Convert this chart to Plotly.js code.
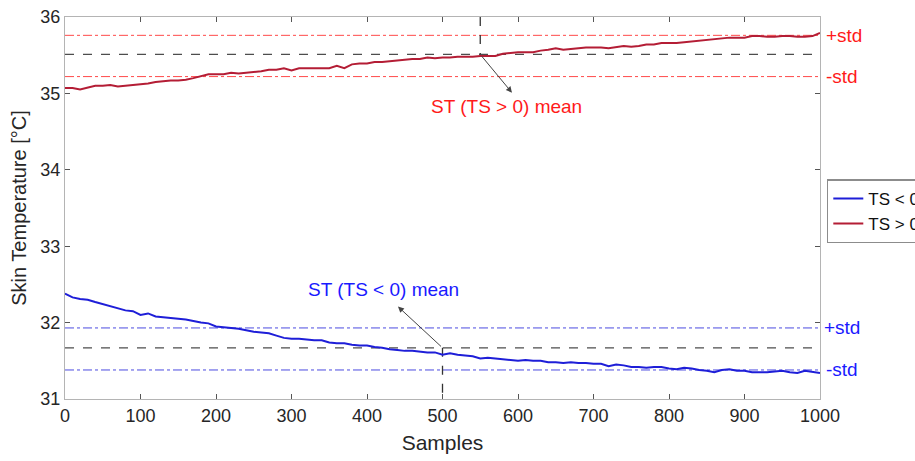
<!DOCTYPE html>
<html>
<head>
<meta charset="utf-8">
<script src="https://cdn.plot.ly/plotly-3.0.1.min.js"></script>
<style>html,body{margin:0;padding:0;background:#fff;overflow:hidden}#chart{width:915px;height:461px}</style>
</head>
<body>
<div id="chart"></div>
<script>
const samples = [0,10,20,30,40,50,60,70,80,90,100,110,120,130,140,150,160,170,180,190,200,210,220,230,240,250,260,270,280,290,300,310,320,330,340,350,360,370,380,390,400,410,420,430,440,450,460,470,480,490,500,510,520,530,540,550,560,570,580,590,600,610,620,630,640,650,660,670,680,690,700,710,720,730,740,750,760,770,780,790,800,810,820,830,840,850,860,870,880,890,900,910,920,930,940,950,960,970,980,990,1000];

const tsPositive = [35.07,35.07,35.05,35.07,35.10,35.10,35.11,35.09,35.10,35.11,
 35.12,35.13,35.15,35.16,35.17,35.17,35.18,35.20,35.22,35.25,
 35.25,35.25,35.27,35.26,35.27,35.28,35.29,35.31,35.31,35.33,
 35.30,35.33,35.33,35.33,35.33,35.33,35.36,35.33,35.38,35.39,
 35.39,35.41,35.41,35.42,35.43,35.44,35.45,35.45,35.47,35.46,
 35.47,35.47,35.48,35.48,35.48,35.49,35.49,35.49,35.52,35.53,
 35.54,35.54,35.54,35.56,35.57,35.59,35.57,35.58,35.59,35.60,
 35.60,35.60,35.59,35.61,35.62,35.61,35.62,35.64,35.64,35.66,
 35.66,35.66,35.67,35.68,35.69,35.70,35.71,35.72,35.73,35.73,
 35.73,35.75,35.75,35.74,35.74,35.75,35.75,35.74,35.74,35.75,
 35.79];

const tsNegative = [32.38,32.33,32.31,32.30,32.27,32.24,32.22,32.18,32.16,32.15,
 32.10,32.12,32.08,32.07,32.06,32.05,32.04,32.02,32.00,31.99,
 31.95,31.94,31.93,31.92,31.90,31.88,31.87,31.86,31.83,31.80,
 31.79,31.79,31.78,31.77,31.77,31.74,31.73,31.73,31.71,31.70,
 31.70,31.68,31.67,31.65,31.64,31.63,31.63,31.62,31.61,31.61,
 31.58,31.60,31.58,31.57,31.56,31.53,31.54,31.53,31.52,31.51,
 31.50,31.51,31.50,31.50,31.48,31.48,31.47,31.48,31.47,31.47,
 31.46,31.46,31.43,31.45,31.44,31.42,31.42,31.41,31.42,31.42,
 31.40,31.39,31.41,31.40,31.38,31.37,31.35,31.38,31.39,31.37,
 31.37,31.35,31.35,31.35,31.36,31.37,31.35,31.34,31.37,31.36,
 31.34];

// reference levels: [+std, mean, -std]
const posLevels = [35.76, 35.51, 35.22];
const negLevels = [31.93, 31.67, 31.38];
const xSpan = [0, 1000];
const posMeanSample = 550;
const negMeanSample = 500;
const yRange = [31, 36];
const xTicks = [0,100,200,300,400,500,600,700,800,900,1000];
const yTicks = [31,32,33,34,35,36];
const seriesNames = ['TS < 0', 'TS > 0'];
const stdLabels = ['+std', '-std'];
const posMeanLabel = 'ST (TS > 0) mean';
const negMeanLabel = 'ST (TS < 0) mean';
const posLabelPos = [585, 34.83];
const negLabelPos = [422, 32.43];
const posArrowHead = [592, 35.01];
const negArrowHead = [441, 32.21];

const RED = '#b41d35', BLUE = '#1e1ed8';
const RED_STD = '#ff4a4a', BLUE_STD = '#4b4be0';
const FONT = 'Liberation Sans, Arial, Helvetica, sans-serif';

function hline(y, color, dash, width) {
  return {x: xSpan, y: [y, y], mode: 'lines', showlegend: false, hoverinfo: 'skip',
          line: {color: color, dash: dash, width: width}};
}

const traces = [
  hline(posLevels[0], RED_STD, 'dashdot', 1),
  hline(posLevels[2], RED_STD, 'dashdot', 1),
  hline(negLevels[0], BLUE_STD, 'dashdot', 1),
  hline(negLevels[2], BLUE_STD, 'dashdot', 1),
  hline(posLevels[1], '#4d4d4d', 'dash', 1.3),
  hline(negLevels[1], '#4d4d4d', 'dash', 1.3),
  {x: [posMeanSample, posMeanSample], y: [yRange[1], posLevels[1]], mode: 'lines', showlegend: false,
   line: {color: '#333', dash: 'dash', width: 1.3}},
  {x: [negMeanSample, negMeanSample], y: [negLevels[1], yRange[0]], mode: 'lines', showlegend: false,
   line: {color: '#333', dash: 'dash', width: 1.3}},
  {x: samples, y: tsNegative, mode: 'lines', name: seriesNames[0], line: {color: BLUE, width: 2}},
  {x: samples, y: tsPositive, mode: 'lines', name: seriesNames[1], line: {color: RED, width: 2}}
];

const annotations = [
  {x: posArrowHead[0], y: posArrowHead[1], ax: posMeanSample, ay: posLevels[1], axref: 'x', ayref: 'y',
   xref: 'x', yref: 'y', text: '', showarrow: true, arrowhead: 2, arrowsize: 1.2, arrowwidth: 1, arrowcolor: '#444'},
  {x: negArrowHead[0], y: negArrowHead[1], ax: negMeanSample, ay: negLevels[1], axref: 'x', ayref: 'y',
   xref: 'x', yref: 'y', text: '', showarrow: true, arrowhead: 2, arrowsize: 1.2, arrowwidth: 1, arrowcolor: '#444'},
  {x: posLabelPos[0], y: posLabelPos[1], xref: 'x', yref: 'y', text: posMeanLabel, showarrow: false,
   font: {family: FONT, size: 19, color: '#ff1a1a'}},
  {x: negLabelPos[0], y: negLabelPos[1], xref: 'x', yref: 'y', text: negMeanLabel, showarrow: false,
   font: {family: FONT, size: 19, color: '#1a1aff'}},
  {x: 1, y: posLevels[0], xref: 'paper', yref: 'y', text: stdLabels[0], showarrow: false, xanchor: 'left', xshift: 4,
   font: {family: FONT, size: 19, color: '#ff1a1a'}},
  {x: 1, y: posLevels[2], xref: 'paper', yref: 'y', text: stdLabels[1], showarrow: false, xanchor: 'left', xshift: 4,
   font: {family: FONT, size: 19, color: '#ff1a1a'}},
  {x: 1, y: negLevels[0], xref: 'paper', yref: 'y', text: stdLabels[0], showarrow: false, xanchor: 'left', xshift: 2,
   font: {family: FONT, size: 19, color: '#1a1aff'}},
  {x: 1, y: negLevels[2], xref: 'paper', yref: 'y', text: stdLabels[1], showarrow: false, xanchor: 'left', xshift: 4,
   font: {family: FONT, size: 19, color: '#1a1aff'}}
];

const axisCommon = {
  showgrid: false, zeroline: false, showline: true, linecolor: '#b4b4b4', linewidth: 1.2,
  mirror: 'ticks', ticks: 'inside', ticklen: 5, tickcolor: '#555', tickwidth: 1,
  tickfont: {family: FONT, size: 18, color: '#262626'}
};

const layout = {
  width: 915, height: 461,
  margin: {l: 65, r: 95, t: 17, b: 62, autoexpand: false},
  paper_bgcolor: '#fff', plot_bgcolor: '#fff',
  font: {family: FONT},
  showlegend: true,
  legend: {x: 1.009, xanchor: 'left', y: 0.575, yanchor: 'top', bordercolor: '#8c8c8c', borderwidth: 1.5,
           font: {family: FONT, size: 17, color: '#111'}, bgcolor: '#fff', tracegroupgap: 0},
  xaxis: Object.assign({}, axisCommon, {range: xSpan, tickvals: xTicks, ticktext: xTicks.map(String),
          title: {text: 'Samples', font: {family: FONT, size: 21, color: '#262626'}, standoff: 10}}),
  yaxis: Object.assign({}, axisCommon, {range: yRange, tickvals: yTicks, ticktext: yTicks.map(String),
          title: {text: 'Skin Temperature [°C]', font: {family: FONT, size: 20, color: '#262626'}, standoff: 8}}),
  annotations: annotations
};

Plotly.newPlot('chart', traces, layout, {staticPlot: true, displayModeBar: false});
</script>
</body>
</html>
